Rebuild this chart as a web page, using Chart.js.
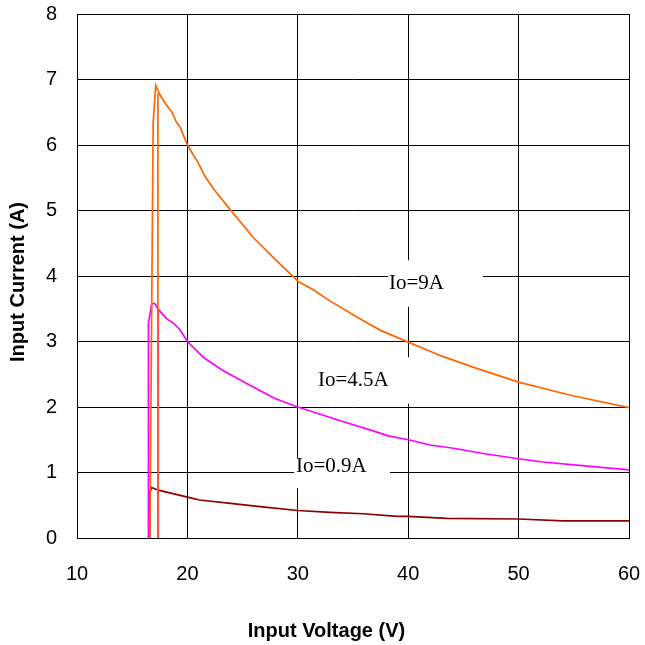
<!DOCTYPE html>
<html>
<head>
<meta charset="utf-8">
<script src="https://cdn.jsdelivr.net/npm/chart.js@4/dist/chart.umd.min.js"></script>
<style>
html,body{margin:0;padding:0;background:#fff;}
#wrap{width:645px;height:645px;}
</style>
</head>
<body>
<div id="wrap"><canvas id="c" width="645" height="645"></canvas></div>
<script>
// ---- data ----
const xTicks = [10, 20, 30, 40, 50, 60];
const yTicks = [0, 1, 2, 3, 4, 5, 6, 7, 8];

// Io = 9A
const io9Volt = [16.6, 16.9, 17.13, 17.5, 17.8, 18.1, 18.6, 19.0, 19.35, 20.0, 21.0, 21.6, 22.5, 23.9, 26.0, 27.9, 29.6, 30.0, 31.4, 32.9, 35.9, 37.5, 40.0, 43.0, 46.2, 50.0, 54.7, 60.0];
const io9Amp  = [0, 6.35, 6.91, 6.77, 6.69, 6.61, 6.5, 6.35, 6.27, 6.0, 5.72, 5.52, 5.3, 5.01, 4.58, 4.26, 3.99, 3.92, 3.79, 3.62, 3.32, 3.17, 2.99, 2.78, 2.59, 2.38, 2.18, 1.99];
const io9StepVolt = [17.33, 17.33];
const io9StepAmp  = [0, 6.79];

// Io = 4.5A
const io45Volt = [16.47, 16.47, 16.62, 16.77, 17.05, 17.36, 17.8, 18.12, 18.72, 19.33, 20.0, 21.44, 23.1, 25.37, 27.93, 30.0, 33.5, 37.1, 38.2, 40.0, 42.0, 44.1, 46.8, 50.0, 52.2, 56.0, 60.0];
const io45Amp  = [0, 3.28, 3.43, 3.58, 3.58, 3.49, 3.41, 3.35, 3.28, 3.18, 3.0, 2.76, 2.57, 2.36, 2.13, 2.0, 1.81, 1.62, 1.56, 1.50, 1.42, 1.37, 1.29, 1.21, 1.16, 1.10, 1.04];
const io45StepVolt = [17.36, 17.36];
const io45StepAmp  = [0, 3.49];

// Io = 0.9A
const io09Volt = [16.6, 16.6, 16.76, 17.36, 18.4, 20.1, 21.1, 23.9, 27.0, 30.0, 32.9, 35.9, 39.0, 40.0, 43.5, 50.0, 54.0, 60.0];
const io09Amp  = [0, 0.70, 0.77, 0.73, 0.69, 0.62, 0.58, 0.53, 0.47, 0.42, 0.39, 0.37, 0.33, 0.33, 0.30, 0.29, 0.26, 0.26];
const io09StepVolt = [17.33, 17.33];
const io09StepAmp  = [0, 0.73];

// curve labels (text, anchor in data units: left x, middle y; box corners in data units)
const labelTexts = ['Io=9A', 'Io=4.5A', 'Io=0.9A'];
const labelVolt  = [38.26, 31.83, 29.84];
const labelAmp   = [3.89, 2.40, 1.09];
const boxVolt0 = [38.17, 31.65, 29.66];
const boxVolt1 = [46.78, 40.34, 38.35];
const boxAmp0  = [4.24, 2.76, 1.22];
const boxAmp1  = [3.53, 2.05, 0.76];

const xTitle = 'Input Voltage (V)';
const yTitle = 'Input Current (A)';

// ---- helpers ----
function pts(xs, ys) { return xs.map((x, i) => ({ x: x, y: ys[i] })); }
function ds(xs, ys, color) {
  return { data: pts(xs, ys), borderColor: color, backgroundColor: color, borderWidth: 1.7,
           pointRadius: 0, showLine: true, fill: false, tension: 0 };
}

const ORANGE = '#FF6600', MAGENTA = '#FF00FF', DARKRED = '#8B0000';
const titleFontCss = 'bold 20px "Liberation Sans", Arial, sans-serif';

const labelPlugin = {
  id: 'curveLabels',
  beforeDatasetsDraw(chart) {
    const ctx = chart.ctx, xs = chart.scales.x, ys = chart.scales.y;
    ctx.save();
    for (let i = 0; i < labelTexts.length; i++) {
      const x0 = xs.getPixelForValue(boxVolt0[i]), x1 = xs.getPixelForValue(boxVolt1[i]);
      const y0 = ys.getPixelForValue(boxAmp0[i]), y1 = ys.getPixelForValue(boxAmp1[i]);
      ctx.fillStyle = '#fff';
      ctx.fillRect(x0, y0, x1 - x0, y1 - y0);
      ctx.fillStyle = '#000';
      ctx.font = '21px "Liberation Serif", "Times New Roman", serif';
      ctx.textAlign = 'left';
      ctx.textBaseline = 'middle';
      ctx.fillText(labelTexts[i], xs.getPixelForValue(labelVolt[i]), ys.getPixelForValue(labelAmp[i]));
    }
    ctx.restore();
  },
  afterDraw(chart) {
    // axis titles centred on the whole figure, as in the reference
    const ctx = chart.ctx;
    ctx.save();
    ctx.fillStyle = '#000';
    ctx.font = titleFontCss;
    ctx.textAlign = 'center';
    ctx.textBaseline = 'middle';
    ctx.fillText(xTitle, chart.width / 2 + 4, chart.height - 14);
    ctx.translate(18, (chart.chartArea.top + chart.chartArea.bottom) / 2 + 6);
    ctx.rotate(-Math.PI / 2);
    ctx.fillText(yTitle, 0, 0);
    ctx.restore();
  }
};

const tickFont = { family: '"Liberation Sans", Arial, sans-serif', size: 20 };

new Chart(document.getElementById('c'), {
  type: 'scatter',
  data: {
    datasets: [
      ds(io9Volt, io9Amp, ORANGE),
      ds(io9StepVolt, io9StepAmp, ORANGE),
      ds(io45Volt, io45Amp, MAGENTA),
      ds(io45StepVolt, io45StepAmp, MAGENTA),
      ds(io09Volt, io09Amp, DARKRED),
      ds(io09StepVolt, io09StepAmp, DARKRED)
    ]
  },
  options: {
    responsive: false,
    animation: false,
    devicePixelRatio: 1,
    layout: { padding: { top: 14, right: 16, left: 0, bottom: 0 } },
    plugins: { legend: { display: false }, tooltip: { enabled: false } },
    scales: {
      x: {
        type: 'linear', min: xTicks[0], max: xTicks[xTicks.length - 1],
        afterBuildTicks: s => { s.ticks = xTicks.map(v => ({ value: v })); },
        afterFit: s => { s.height = 107; s.paddingLeft = 0; s.paddingRight = 0; },
        grid: { color: '#000', lineWidth: 1, drawTicks: false },
        border: { color: '#000', width: 1 },
        ticks: { color: '#000', font: tickFont, padding: 24, maxRotation: 0 },
        title: { display: false, text: xTitle }
      },
      y: {
        type: 'linear', min: yTicks[0], max: yTicks[yTicks.length - 1],
        afterBuildTicks: s => { s.ticks = yTicks.map(v => ({ value: v })); },
        afterFit: s => { s.width = 77; s.paddingTop = 0; s.paddingBottom = 0; },
        grid: { color: '#000', lineWidth: 1, drawTicks: false },
        border: { color: '#000', width: 1 },
        ticks: { color: '#000', font: tickFont, padding: 20 },
        title: { display: false, text: yTitle }
      }
    }
  },
  plugins: [labelPlugin]
});
</script>
</body>
</html>
